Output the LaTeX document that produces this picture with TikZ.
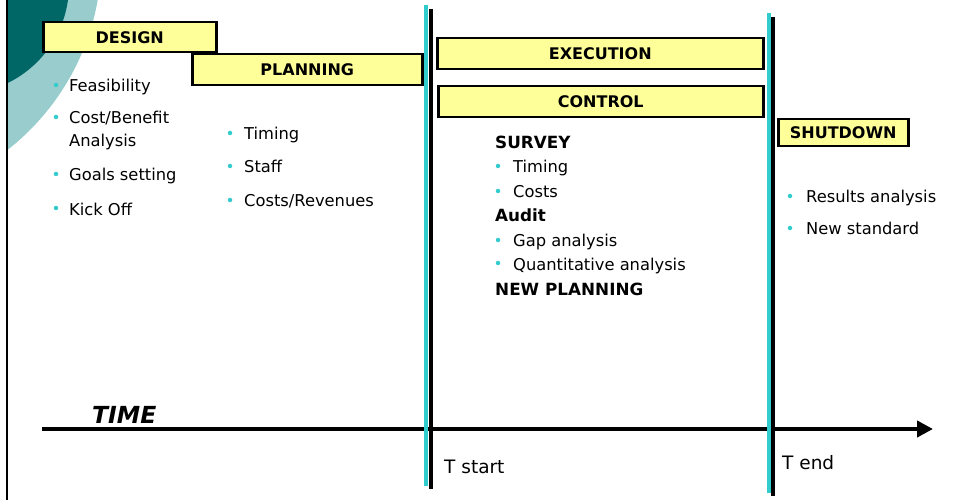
\documentclass[tikz,border=0pt]{standalone}
\usepackage{fontspec}
\setmainfont{DejaVu Sans}
\usetikzlibrary{arrows.meta}
\definecolor{boxyellow}{HTML}{FFFF99}
\definecolor{lineaqua}{HTML}{33CCCC}
\definecolor{darkteal}{HTML}{006666}
\definecolor{paleteal}{HTML}{99CCCC}
\tikzset{
  phase/.style={draw=black, line width=2.5pt, fill=boxyellow, inner sep=0pt, anchor=north west,
    font=\fontsize{16}{18}\selectfont\bfseries},
  item/.style={anchor=base west, inner sep=0pt, font=\fontsize{16.3}{19}\selectfont},
  head/.style={anchor=base west, inner sep=0pt, font=\fontsize{16.8}{19}\selectfont\bfseries},
  dot/.style={circle, fill=lineaqua, inner sep=0pt, minimum size=4.5pt},
  stamp/.style={anchor=base west, inner sep=0pt, font=\fontsize{18.5}{22}\selectfont},
}
\begin{document}
\begin{tikzpicture}[x=1pt, y=-1pt]
        \useasboundingbox (0, 0) rectangle (954, 500);
        % corner decoration
        \begin{scope}
            \clip (8, 0) rectangle (300, 300);
            \fill[paleteal] (-143.5, -43) circle (245);
            \fill[darkteal] (-40, -15) circle (109);
        \end{scope}
        \draw[line width=2.5pt] (7, 0) -- (7, 500);

        % phase boxes
        \node[phase, minimum width=230pt, minimum height=31pt] (planning) at (191, 53) {PLANNING};
        \node[phase, minimum width=173pt, minimum height=30pt] (design) at (42, 21) {DESIGN};
        \node[phase, minimum width=326pt, minimum height=31pt] (execution) at (436, 37) {EXECUTION};
        \node[phase, minimum width=325pt, minimum height=31pt] (control) at (437, 85) {CONTROL};
        \node[phase, minimum width=130pt, minimum height=27pt] (shutdown) at (777, 118) {SHUTDOWN};

        % time axis
        \coordinate (axisL) at (42, 429);
        \coordinate (axisR) at (933, 429);
        \draw[line width=4pt, -{Triangle[length=16pt, width=16pt]}] (axisL) -- (axisR);
        \node[anchor=base west, inner sep=0pt, font=\fontsize{23.5}{26}\selectfont\bfseries\itshape] (time) at (92, 423) {TIME};

        % start and end marks
        \coordinate (sA) at (426, 5);   \coordinate (sB) at (426, 486);
        \coordinate (sC) at (431, 9);   \coordinate (sD) at (431, 489);
        \coordinate (eA) at (769, 13);  \coordinate (eB) at (769, 493);
        \coordinate (eC) at (773, 17);  \coordinate (eD) at (773, 496);
        \draw[lineaqua, line width=4.5pt] (sA) -- (sB);
        \draw[line width=4pt] (sC) -- (sD);
        \draw[lineaqua, line width=4.5pt] (eA) -- (eB);
        \draw[line width=4pt] (eC) -- (eD);
        \node[stamp] (tstart) at (444, 473) {T start};
        \node[stamp] (tend) at (782, 469.5) {T end};

        % design
        \foreach \yy/\txt [count=\i] in {92/Feasibility, 124/Cost\slash Benefit, 181/Goals setting, 215/Kick Off}
            {
            \node[dot] (dd\i) at (56, {\yy-7}) {};
            \node[item] (dt\i) at (69, \yy) {\txt};
            }
        \node[item] (dt2b) at (69, 147) {Analysis};

        % planning
        \foreach \yy/\txt [count=\i] in {140/Timing, 173/Staff, 207/Costs\slash Revenues}
            {
            \node[dot] (pd\i) at (230, {\yy-7}) {};
            \node[item] (pt\i) at (244, \yy) {\txt};
            }

        % execution and control
        \node[head] (survey) at (495, 149) {SURVEY};
        \node[head] (audit) at (495, 222) {Audit};
        \node[head] (newplan) at (495, 295) {NEW PLANNING};
        \foreach \yy/\txt [count=\i] in {173/Timing, 198/Costs, 247/Gap analysis, 270/Quantitative analysis}
            {
            \node[dot] (cd\i) at (498, {\yy-7}) {};
            \node[item] (ct\i) at (513, \yy) {\txt};
            }

        % shutdown
        \foreach \yy/\txt [count=\i] in {203/Results analysis, 235/New standard}
            {
            \node[dot] (sd\i) at (790, {\yy-7}) {};
            \node[item] (st\i) at (806, \yy) {\txt};
            }
    \end{tikzpicture}
\end{document}
